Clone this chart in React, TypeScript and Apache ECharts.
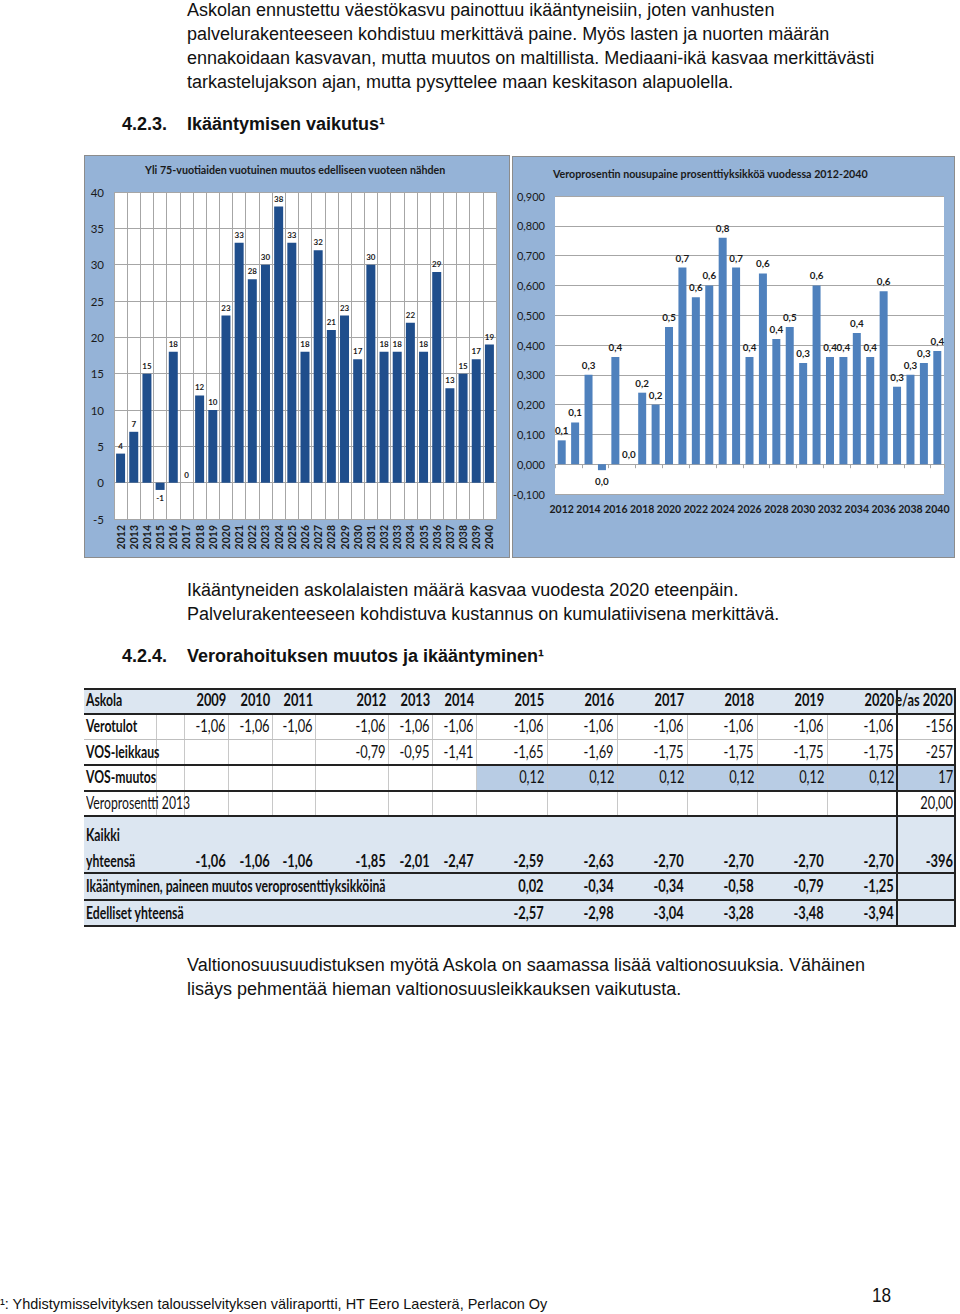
import React, { useEffect, useRef } from "react";
import * as echarts from "echarts";

// ---------- chart data ----------
const years = ["2012", "2013", "2014", "2015", "2016", "2017", "2018", "2019", "2020", "2021", "2022", "2023", "2024", "2025", "2026", "2027", "2028", "2029", "2030", "2031", "2032", "2033", "2034", "2035", "2036", "2037", "2038", "2039", "2040"];
const over75Change = [4, 7, 15, -1, 18, 0, 12, 10, 23, 33, 28, 30, 38, 33, 18, 32, 21, 23, 17, 30, 18, 18, 22, 18, 29, 13, 15, 17, 19];
const taxPressure = [0.08, 0.14, 0.30, -0.02, 0.36, 0.0, 0.24, 0.20, 0.46, 0.66, 0.56, 0.60, 0.76, 0.66, 0.36, 0.64, 0.42, 0.46, 0.34, 0.60, 0.36, 0.36, 0.44, 0.36, 0.58, 0.26, 0.30, 0.34, 0.38];
const leftTitle = "Yli 75-vuotiaiden vuotuinen muutos edelliseen vuoteen nähden";
const rightTitle = "Veroprosentin nousupaine prosenttiyksikköä vuodessa 2012-2040";

// ---------- table data ----------
const tableYears = ["2009", "2010", "2011", "2012", "2013", "2014", "2015", "2016", "2017", "2018", "2019", "2020", "e/as 2020"];
const verotulot = ["-1,06", "-1,06", "-1,06", "-1,06", "-1,06", "-1,06", "-1,06", "-1,06", "-1,06", "-1,06", "-1,06", "-1,06", "-156"];
const vosLeikkaus = ["", "", "", "-0,79", "-0,95", "-1,41", "-1,65", "-1,69", "-1,75", "-1,75", "-1,75", "-1,75", "-257"];
const vosMuutos = ["", "", "", "", "", "", "0,12", "0,12", "0,12", "0,12", "0,12", "0,12", "17"];
const veroprosentti = ["", "", "", "", "", "", "", "", "", "", "", "", "20,00"];
const kaikkiYhteensa = ["-1,06", "-1,06", "-1,06", "-1,85", "-2,01", "-2,47", "-2,59", "-2,63", "-2,70", "-2,70", "-2,70", "-2,70", "-396"];
const ikaantyminen = ["", "", "", "", "", "", "0,02", "-0,34", "-0,34", "-0,58", "-0,79", "-1,25", ""];
const edellisetYhteensa = ["", "", "", "", "", "", "-2,57", "-2,98", "-3,04", "-3,28", "-3,48", "-3,94", ""];

const CF = "Lato,'Liberation Sans',sans-serif";
const PF = "'Liberation Sans',Arial,Helvetica,sans-serif";

function fmt1(v: number) {
  return (Math.round(v * 10) / 10).toFixed(1).replace(".", ",");
}

function Charts() {
  const ref = useRef<HTMLDivElement>(null);
  useEffect(() => {
    if (!ref.current) return;
    const chart = echarts.init(ref.current, null, { renderer: "svg" });
    const gridLine = { color: "#a6a6a6", width: 1 };
    chart.setOption({
      animation: false,
      backgroundColor: "transparent",
      textStyle: { fontFamily: CF },
      title: [
        { text: leftTitle, left: 61, top: 9, padding: 0, textStyle: { fontSize: 10.7, fontWeight: "bold", color: "#1a1a1a", fontFamily: CF } },
        { text: rightTitle, left: 469, top: 13, padding: 0, textStyle: { fontSize: 10.7, fontWeight: "bold", color: "#1a1a1a", fontFamily: CF } },
      ],
      grid: [
        { left: 30, top: 37, width: 382, height: 327, show: true, backgroundColor: "#fff", borderWidth: 0 },
        { left: 471, top: 41, width: 389, height: 298, show: true, backgroundColor: "#fff", borderWidth: 0 },
      ],
      xAxis: [
        {
          type: "category", gridIndex: 0, data: years,
          axisLine: { show: false, onZero: false }, axisTick: { show: false },
          axisLabel: { rotate: 90, interval: 0, fontSize: 10.5, fontWeight: "bold", color: "#1a1a1a", margin: 6, fontFamily: CF },
          splitLine: { show: true, interval: 0, lineStyle: gridLine },
        },
        {
          type: "category", gridIndex: 1, data: years,
          axisLine: { show: true, onZero: true, lineStyle: { color: "#a6a6a6" } },
          axisTick: { show: true, length: 4, lineStyle: { color: "#a6a6a6" } },
          axisLabel: { interval: 1, showMinLabel: true, showMaxLabel: true, fontSize: 10.5, fontWeight: "bold", color: "#1a1a1a", margin: 9, fontFamily: CF },
          splitLine: { show: false },
        },
      ],
      yAxis: [
        {
          type: "value", gridIndex: 0, min: -5, max: 40, interval: 5,
          axisLine: { show: false }, axisTick: { show: false },
          axisLabel: { fontSize: 11.5, color: "#1a1a1a", margin: 10, fontFamily: CF },
          splitLine: { show: true, lineStyle: gridLine },
        },
        {
          type: "value", gridIndex: 1, min: -0.1, max: 0.9, interval: 0.1,
          axisLine: { show: false }, axisTick: { show: false },
          axisLabel: { fontSize: 11, color: "#1a1a1a", margin: 10, fontFamily: CF, formatter: (v: number) => v.toFixed(3).replace(".", ",") },
          splitLine: { show: true, lineStyle: gridLine },
        },
      ],
      series: [
        {
          type: "bar", xAxisIndex: 0, yAxisIndex: 0, barWidth: 9,
          data: over75Change.map((v) => (v < 0 ? { value: v, label: { position: "bottom" } } : v)),
          itemStyle: { color: "#1f4e8c" },
          label: { show: true, position: "top", distance: 4, fontSize: 8, fontWeight: "bold", color: "#1a1a1a", fontFamily: CF },
        },
        {
          type: "bar", xAxisIndex: 1, yAxisIndex: 1, barWidth: 8,
          data: taxPressure.map((v) => (v < 0 ? { value: v, label: { position: "bottom", distance: 6 } } : v)),
          itemStyle: { color: "#4f81bd" },
          label: { show: true, position: "top", distance: 5, fontSize: 9.8, fontWeight: "bold", color: "#1a1a1a", fontFamily: CF, formatter: (p: any) => fmt1(p.value) },
        },
      ],
    });
    return () => chart.dispose();
  }, []);
  return (
    <div style={{ position: "absolute", left: 84, top: 155, width: 872, height: 403 }}>
      <div style={{ position: "absolute", left: 0, top: 0, width: 424, height: 401, background: "#95b3d7", border: "1px solid #8c8c8c" }} />
      <div style={{ position: "absolute", left: 428, top: 1, width: 441, height: 400, background: "#95b3d7", border: "1px solid #8c8c8c" }} />
      <div ref={ref} style={{ position: "absolute", left: 0, top: 0, width: 872, height: 403 }} />
    </div>
  );
}

function T(props: { x: number; y: number; size?: number; bold?: boolean; font?: string; children: any; right?: boolean; color?: string; sx?: number }) {
  const size = props.size || 18;
  const lh = Math.round(size * 1.4);
  const style: any = {
    position: "absolute", top: props.y - lh / 2, lineHeight: lh + "px", fontSize: size,
    fontWeight: props.bold ? "bold" : "normal", fontFamily: props.font || PF, whiteSpace: "nowrap",
    color: props.color || "#111",
  };
  if (props.right) style.right = 960 - props.x; else style.left = props.x;
  if (props.sx) {
    style.transform = `scaleX(${props.sx})`;
    style.transformOrigin = props.right ? "right center" : "left center";
  }
  return <div style={style}>{props.children}</div>;
}

const colRights = [226, 270, 313, 386, 430, 474, 544, 614, 684, 754, 824, 894, 953];
const lightCols = [156, 184, 228, 272, 315, 388, 432, 476, 547, 617, 687, 757, 827];

function Table() {
  const TF = "Lato,'Liberation Sans',sans-serif";
  const rows = [
    { top: 688, h: 25, bg: "#dce6f1", label: "Askola", lb: true, vals: tableYears, vb: true, grid: false },
    { top: 713, h: 26, bg: "#fff", label: "Verotulot", lb: true, vals: verotulot, vb: false, grid: true },
    { top: 739, h: 26, bg: "#fff", label: "VOS-leikkaus", lb: true, vals: vosLeikkaus, vb: false, grid: true },
    { top: 765, h: 25, bg: "#fff", label: "VOS-muutos", lb: true, vals: vosMuutos, vb: false, grid: true, hl: true },
    { top: 790, h: 26, bg: "#fff", label: "Veroprosentti 2013", lb: false, vals: veroprosentti, vb: false, grid: true },
    { top: 816, h: 57, bg: "#dce6f1", label: "Kaikki", label2: "yhteensä", lb: true, vals: kaikkiYhteensa, vb: true, grid: false },
    { top: 873, h: 27, bg: "#dce6f1", label: "Ikääntyminen, paineen muutos veroprosenttiyksikköinä", lb: true, vals: ikaantyminen, vb: true, grid: false },
    { top: 900, h: 26, bg: "#dce6f1", label: "Edelliset yhteensä", lb: true, vals: edellisetYhteensa, vb: true, grid: false },
  ];
  const fs = 16.5;
  const sl = 0.74;
  const sv = 0.78;
  const els: any[] = [];
  rows.forEach((r: any, i) => {
    els.push(<div key={"bg" + i} style={{ position: "absolute", left: 84, top: r.top, width: 872, height: r.h, background: r.bg }} />);
    if (r.hl) els.push(<div key={"hl" + i} style={{ position: "absolute", left: 476, top: r.top, width: 480, height: r.h, background: "#b8cce4" }} />);
    if (r.grid) lightCols.forEach((x, j) => els.push(<div key={"vl" + i + "_" + j} style={{ position: "absolute", left: x, top: r.top, width: 1, height: r.h, background: "#c8c8c8" }} />));
    const cy = r.label2 ? r.top + r.h - 12 : r.top + r.h / 2;
    if (r.label2) {
      els.push(<T key={"l1" + i} x={86} y={r.top + 19} size={fs} bold={r.lb} font={TF} sx={sl}>{r.label}</T>);
      els.push(<T key={"l2" + i} x={86} y={cy} size={fs} bold={r.lb} font={TF} sx={sl}>{r.label2}</T>);
    } else {
      els.push(<T key={"l" + i} x={86} y={cy} size={fs} bold={r.lb} font={TF} sx={sl}>{r.label}</T>);
    }
    r.vals.forEach((v: string, j: number) => {
      if (v) els.push(<T key={"v" + i + "_" + j} x={colRights[j]} y={cy} right size={fs} bold={r.vb} font={TF} sx={sv}>{v}</T>);
    });
  });
  const hlines = [
    { y: 688, w: 2, c: "#222" }, { y: 713, w: 1.5, c: "#222" }, { y: 739, w: 1, c: "#bfbfbf" }, { y: 764, w: 2, c: "#222" },
    { y: 790, w: 1.5, c: "#222" }, { y: 815, w: 2, c: "#222" }, { y: 872, w: 2, c: "#222" }, { y: 899, w: 2, c: "#222" }, { y: 925, w: 2, c: "#222" },
  ];
  hlines.forEach((l, i) => els.push(<div key={"hline" + i} style={{ position: "absolute", left: 84, top: l.y, width: 872, height: l.w, background: l.c }} />));
  els.push(<div key="vd1" style={{ position: "absolute", left: 896, top: 688, width: 2, height: 239, background: "#222" }} />);
  els.push(<div key="vd2" style={{ position: "absolute", left: 954, top: 688, width: 2, height: 239, background: "#222" }} />);
  return <>{els}</>;
}

export default function App() {
  return (
    <div style={{ position: "absolute", left: 0, top: 0, width: 960, height: 1314, background: "#fff", overflow: "hidden" }}>
      <T x={187} y={10}>Askolan ennustettu väestökasvu painottuu ikääntyneisiin, joten vanhusten</T>
      <T x={187} y={34}>palvelurakenteeseen kohdistuu merkittävä paine. Myös lasten ja nuorten määrän</T>
      <T x={187} y={58}>ennakoidaan kasvavan, mutta muutos on maltillista. Mediaani-ikä kasvaa merkittävästi</T>
      <T x={187} y={82}>tarkastelujakson ajan, mutta pysyttelee maan keskitason alapuolella.</T>
      <T x={122} y={124} bold>4.2.3.</T>
      <T x={187} y={124} bold>Ikääntymisen vaikutus¹</T>
      <Charts />
      <T x={187} y={590}>Ikääntyneiden askolalaisten määrä kasvaa vuodesta 2020 eteenpäin.</T>
      <T x={187} y={614}>Palvelurakenteeseen kohdistuva kustannus on kumulatiivisena merkittävä.</T>
      <T x={122} y={656} bold>4.2.4.</T>
      <T x={187} y={656} bold>Verorahoituksen muutos ja ikääntyminen¹</T>
      <Table />
      <T x={187} y={965}>Valtionosuusuudistuksen myötä Askola on saamassa lisää valtionosuuksia. Vähäinen</T>
      <T x={187} y={989}>lisäys pehmentää hieman valtionosuusleikkauksen vaikutusta.</T>
      <T x={0} y={1303} size={15} sx={0.965}>¹: Yhdistymisselvityksen talousselvityksen väliraportti, HT Eero Laesterä, Perlacon Oy</T>
      <T x={872} y={1295} size={20} sx={0.86}>18</T>
    </div>
  );
}
